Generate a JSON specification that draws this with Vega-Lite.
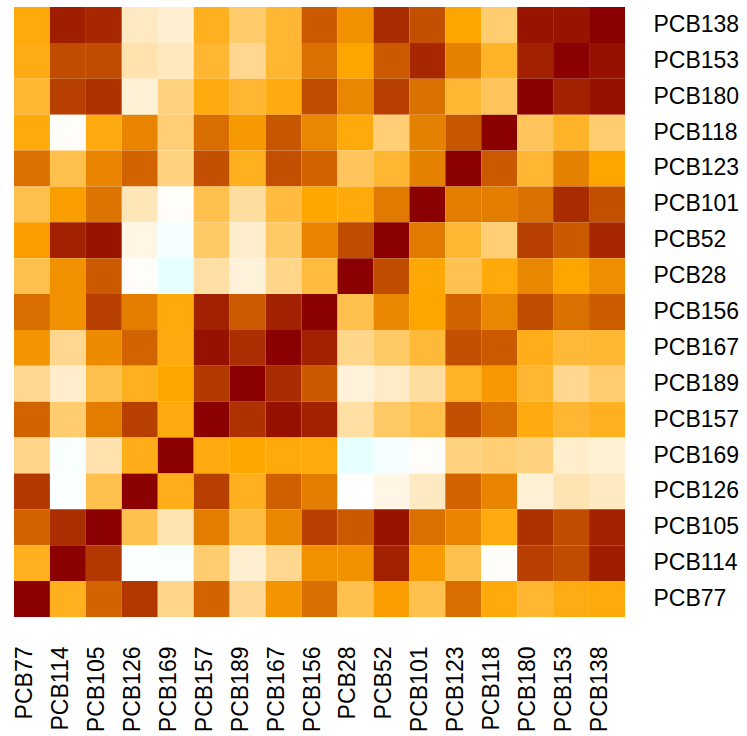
{
  "$schema": "https://vega.github.io/schema/vega-lite/v6.json",
  "width": 611,
  "height": 610,
  "autosize": {"type": "none"},
  "padding": {"left": 14, "top": 7, "right": 122, "bottom": 119},
  "background": "white",
  "config": {"view": {"stroke": null}, "font": "Liberation Sans"},
  "data": {"values": [
{"y":"PCB138","x":"PCB77","r":0.48},{"y":"PCB138","x":"PCB114","r":0.91},{"y":"PCB138","x":"PCB105","r":0.88},{"y":"PCB138","x":"PCB126","r":0.12},{"y":"PCB138","x":"PCB169","r":0.09},{"y":"PCB138","x":"PCB157","r":0.44},{"y":"PCB138","x":"PCB189","r":0.29},{"y":"PCB138","x":"PCB167","r":0.40},{"y":"PCB138","x":"PCB156","r":0.73},{"y":"PCB138","x":"PCB28","r":0.56},{"y":"PCB138","x":"PCB52","r":0.87},{"y":"PCB138","x":"PCB101","r":0.76},{"y":"PCB138","x":"PCB123","r":0.50},{"y":"PCB138","x":"PCB118","r":0.28},{"y":"PCB138","x":"PCB180","r":0.94},{"y":"PCB138","x":"PCB153","r":0.94},{"y":"PCB138","x":"PCB138","r":1},
{"y":"PCB153","x":"PCB77","r":0.46},{"y":"PCB153","x":"PCB114","r":0.77},{"y":"PCB153","x":"PCB105","r":0.77},{"y":"PCB153","x":"PCB126","r":0.16},{"y":"PCB153","x":"PCB169","r":0.13},{"y":"PCB153","x":"PCB157","r":0.40},{"y":"PCB153","x":"PCB189","r":0.22},{"y":"PCB153","x":"PCB167","r":0.40},{"y":"PCB153","x":"PCB156","r":0.66},{"y":"PCB153","x":"PCB28","r":0.50},{"y":"PCB153","x":"PCB52","r":0.73},{"y":"PCB153","x":"PCB101","r":0.88},{"y":"PCB153","x":"PCB123","r":0.61},{"y":"PCB153","x":"PCB118","r":0.42},{"y":"PCB153","x":"PCB180","r":0.90},{"y":"PCB153","x":"PCB153","r":1},{"y":"PCB153","x":"PCB138","r":0.95},
{"y":"PCB180","x":"PCB77","r":0.40},{"y":"PCB180","x":"PCB114","r":0.81},{"y":"PCB180","x":"PCB105","r":0.85},{"y":"PCB180","x":"PCB126","r":0.08},{"y":"PCB180","x":"PCB169","r":0.25},{"y":"PCB180","x":"PCB157","r":0.47},{"y":"PCB180","x":"PCB189","r":0.40},{"y":"PCB180","x":"PCB167","r":0.47},{"y":"PCB180","x":"PCB156","r":0.77},{"y":"PCB180","x":"PCB28","r":0.59},{"y":"PCB180","x":"PCB52","r":0.81},{"y":"PCB180","x":"PCB101","r":0.66},{"y":"PCB180","x":"PCB123","r":0.40},{"y":"PCB180","x":"PCB118","r":0.32},{"y":"PCB180","x":"PCB180","r":1},{"y":"PCB180","x":"PCB153","r":0.90},{"y":"PCB180","x":"PCB138","r":0.95},
{"y":"PCB118","x":"PCB77","r":0.48},{"y":"PCB118","x":"PCB114","r":0.01},{"y":"PCB118","x":"PCB105","r":0.47},{"y":"PCB118","x":"PCB126","r":0.60},{"y":"PCB118","x":"PCB169","r":0.27},{"y":"PCB118","x":"PCB157","r":0.67},{"y":"PCB118","x":"PCB189","r":0.54},{"y":"PCB118","x":"PCB167","r":0.74},{"y":"PCB118","x":"PCB156","r":0.59},{"y":"PCB118","x":"PCB28","r":0.48},{"y":"PCB118","x":"PCB52","r":0.27},{"y":"PCB118","x":"PCB101","r":0.61},{"y":"PCB118","x":"PCB123","r":0.74},{"y":"PCB118","x":"PCB118","r":1},{"y":"PCB118","x":"PCB180","r":0.32},{"y":"PCB118","x":"PCB153","r":0.42},{"y":"PCB118","x":"PCB138","r":0.28},
{"y":"PCB123","x":"PCB77","r":0.66},{"y":"PCB123","x":"PCB114","r":0.35},{"y":"PCB123","x":"PCB105","r":0.60},{"y":"PCB123","x":"PCB126","r":0.70},{"y":"PCB123","x":"PCB169","r":0.25},{"y":"PCB123","x":"PCB157","r":0.76},{"y":"PCB123","x":"PCB189","r":0.44},{"y":"PCB123","x":"PCB167","r":0.76},{"y":"PCB123","x":"PCB156","r":0.70},{"y":"PCB123","x":"PCB28","r":0.32},{"y":"PCB123","x":"PCB52","r":0.40},{"y":"PCB123","x":"PCB101","r":0.61},{"y":"PCB123","x":"PCB123","r":1},{"y":"PCB123","x":"PCB118","r":0.73},{"y":"PCB123","x":"PCB180","r":0.40},{"y":"PCB123","x":"PCB153","r":0.61},{"y":"PCB123","x":"PCB138","r":0.50},
{"y":"PCB101","x":"PCB77","r":0.35},{"y":"PCB101","x":"PCB114","r":0.52},{"y":"PCB101","x":"PCB105","r":0.65},{"y":"PCB101","x":"PCB126","r":0.14},{"y":"PCB101","x":"PCB169","r":0.01},{"y":"PCB101","x":"PCB157","r":0.35},{"y":"PCB101","x":"PCB189","r":0.19},{"y":"PCB101","x":"PCB167","r":0.38},{"y":"PCB101","x":"PCB156","r":0.50},{"y":"PCB101","x":"PCB28","r":0.48},{"y":"PCB101","x":"PCB52","r":0.63},{"y":"PCB101","x":"PCB101","r":1},{"y":"PCB101","x":"PCB123","r":0.62},{"y":"PCB101","x":"PCB118","r":0.62},{"y":"PCB101","x":"PCB180","r":0.66},{"y":"PCB101","x":"PCB153","r":0.87},{"y":"PCB101","x":"PCB138","r":0.76},
{"y":"PCB52","x":"PCB77","r":0.52},{"y":"PCB52","x":"PCB114","r":0.90},{"y":"PCB52","x":"PCB105","r":0.94},{"y":"PCB52","x":"PCB126","r":0.05},{"y":"PCB52","x":"PCB169","r":-0.03},{"y":"PCB52","x":"PCB157","r":0.30},{"y":"PCB52","x":"PCB189","r":0.10},{"y":"PCB52","x":"PCB167","r":0.30},{"y":"PCB52","x":"PCB156","r":0.60},{"y":"PCB52","x":"PCB28","r":0.77},{"y":"PCB52","x":"PCB52","r":1},{"y":"PCB52","x":"PCB101","r":0.63},{"y":"PCB52","x":"PCB123","r":0.40},{"y":"PCB52","x":"PCB118","r":0.27},{"y":"PCB52","x":"PCB180","r":0.81},{"y":"PCB52","x":"PCB153","r":0.73},{"y":"PCB52","x":"PCB138","r":0.88},
{"y":"PCB28","x":"PCB77","r":0.35},{"y":"PCB28","x":"PCB114","r":0.56},{"y":"PCB28","x":"PCB105","r":0.73},{"y":"PCB28","x":"PCB126","r":0.01},{"y":"PCB28","x":"PCB169","r":-0.08},{"y":"PCB28","x":"PCB157","r":0.18},{"y":"PCB28","x":"PCB189","r":0.07},{"y":"PCB28","x":"PCB167","r":0.23},{"y":"PCB28","x":"PCB156","r":0.38},{"y":"PCB28","x":"PCB28","r":1},{"y":"PCB28","x":"PCB52","r":0.77},{"y":"PCB28","x":"PCB101","r":0.49},{"y":"PCB28","x":"PCB123","r":0.34},{"y":"PCB28","x":"PCB118","r":0.48},{"y":"PCB28","x":"PCB180","r":0.59},{"y":"PCB28","x":"PCB153","r":0.50},{"y":"PCB28","x":"PCB138","r":0.57},
{"y":"PCB156","x":"PCB77","r":0.67},{"y":"PCB156","x":"PCB114","r":0.56},{"y":"PCB156","x":"PCB105","r":0.81},{"y":"PCB156","x":"PCB126","r":0.62},{"y":"PCB156","x":"PCB169","r":0.48},{"y":"PCB156","x":"PCB157","r":0.90},{"y":"PCB156","x":"PCB189","r":0.73},{"y":"PCB156","x":"PCB167","r":0.90},{"y":"PCB156","x":"PCB156","r":1},{"y":"PCB156","x":"PCB28","r":0.35},{"y":"PCB156","x":"PCB52","r":0.59},{"y":"PCB156","x":"PCB101","r":0.50},{"y":"PCB156","x":"PCB123","r":0.70},{"y":"PCB156","x":"PCB118","r":0.59},{"y":"PCB156","x":"PCB180","r":0.77},{"y":"PCB156","x":"PCB153","r":0.66},{"y":"PCB156","x":"PCB138","r":0.72},
{"y":"PCB167","x":"PCB77","r":0.55},{"y":"PCB167","x":"PCB114","r":0.22},{"y":"PCB167","x":"PCB105","r":0.58},{"y":"PCB167","x":"PCB126","r":0.70},{"y":"PCB167","x":"PCB169","r":0.47},{"y":"PCB167","x":"PCB157","r":0.95},{"y":"PCB167","x":"PCB189","r":0.86},{"y":"PCB167","x":"PCB167","r":1},{"y":"PCB167","x":"PCB156","r":0.90},{"y":"PCB167","x":"PCB28","r":0.23},{"y":"PCB167","x":"PCB52","r":0.30},{"y":"PCB167","x":"PCB101","r":0.39},{"y":"PCB167","x":"PCB123","r":0.76},{"y":"PCB167","x":"PCB118","r":0.73},{"y":"PCB167","x":"PCB180","r":0.45},{"y":"PCB167","x":"PCB153","r":0.39},{"y":"PCB167","x":"PCB138","r":0.40},
{"y":"PCB189","x":"PCB77","r":0.22},{"y":"PCB189","x":"PCB114","r":0.10},{"y":"PCB189","x":"PCB105","r":0.35},{"y":"PCB189","x":"PCB126","r":0.44},{"y":"PCB189","x":"PCB169","r":0.50},{"y":"PCB189","x":"PCB157","r":0.83},{"y":"PCB189","x":"PCB189","r":1},{"y":"PCB189","x":"PCB167","r":0.87},{"y":"PCB189","x":"PCB156","r":0.73},{"y":"PCB189","x":"PCB28","r":0.07},{"y":"PCB189","x":"PCB52","r":0.11},{"y":"PCB189","x":"PCB101","r":0.19},{"y":"PCB189","x":"PCB123","r":0.42},{"y":"PCB189","x":"PCB118","r":0.54},{"y":"PCB189","x":"PCB180","r":0.40},{"y":"PCB189","x":"PCB153","r":0.22},{"y":"PCB189","x":"PCB138","r":0.28},
{"y":"PCB157","x":"PCB77","r":0.70},{"y":"PCB157","x":"PCB114","r":0.28},{"y":"PCB157","x":"PCB105","r":0.62},{"y":"PCB157","x":"PCB126","r":0.81},{"y":"PCB157","x":"PCB169","r":0.47},{"y":"PCB157","x":"PCB157","r":1},{"y":"PCB157","x":"PCB189","r":0.85},{"y":"PCB157","x":"PCB167","r":0.95},{"y":"PCB157","x":"PCB156","r":0.90},{"y":"PCB157","x":"PCB28","r":0.18},{"y":"PCB157","x":"PCB52","r":0.30},{"y":"PCB157","x":"PCB101","r":0.35},{"y":"PCB157","x":"PCB123","r":0.76},{"y":"PCB157","x":"PCB118","r":0.67},{"y":"PCB157","x":"PCB180","r":0.47},{"y":"PCB157","x":"PCB153","r":0.40},{"y":"PCB157","x":"PCB138","r":0.44},
{"y":"PCB169","x":"PCB77","r":0.23},{"y":"PCB169","x":"PCB114","r":-0.02},{"y":"PCB169","x":"PCB105","r":0.16},{"y":"PCB169","x":"PCB126","r":0.45},{"y":"PCB169","x":"PCB169","r":1},{"y":"PCB169","x":"PCB157","r":0.47},{"y":"PCB169","x":"PCB189","r":0.50},{"y":"PCB169","x":"PCB167","r":0.48},{"y":"PCB169","x":"PCB156","r":0.48},{"y":"PCB169","x":"PCB28","r":-0.08},{"y":"PCB169","x":"PCB52","r":-0.03},{"y":"PCB169","x":"PCB101","r":0.01},{"y":"PCB169","x":"PCB123","r":0.25},{"y":"PCB169","x":"PCB118","r":0.27},{"y":"PCB169","x":"PCB180","r":0.25},{"y":"PCB169","x":"PCB153","r":0.10},{"y":"PCB169","x":"PCB138","r":0.08},
{"y":"PCB126","x":"PCB77","r":0.83},{"y":"PCB126","x":"PCB114","r":-0.01},{"y":"PCB126","x":"PCB105","r":0.35},{"y":"PCB126","x":"PCB126","r":1},{"y":"PCB126","x":"PCB169","r":0.45},{"y":"PCB126","x":"PCB157","r":0.81},{"y":"PCB126","x":"PCB189","r":0.44},{"y":"PCB126","x":"PCB167","r":0.71},{"y":"PCB126","x":"PCB156","r":0.62},{"y":"PCB126","x":"PCB28","r":0.00},{"y":"PCB126","x":"PCB52","r":0.05},{"y":"PCB126","x":"PCB101","r":0.12},{"y":"PCB126","x":"PCB123","r":0.70},{"y":"PCB126","x":"PCB118","r":0.60},{"y":"PCB126","x":"PCB180","r":0.08},{"y":"PCB126","x":"PCB153","r":0.15},{"y":"PCB126","x":"PCB138","r":0.12},
{"y":"PCB105","x":"PCB77","r":0.70},{"y":"PCB105","x":"PCB114","r":0.86},{"y":"PCB105","x":"PCB105","r":1},{"y":"PCB105","x":"PCB126","r":0.35},{"y":"PCB105","x":"PCB169","r":0.15},{"y":"PCB105","x":"PCB157","r":0.62},{"y":"PCB105","x":"PCB189","r":0.37},{"y":"PCB105","x":"PCB167","r":0.59},{"y":"PCB105","x":"PCB156","r":0.81},{"y":"PCB105","x":"PCB28","r":0.73},{"y":"PCB105","x":"PCB52","r":0.94},{"y":"PCB105","x":"PCB101","r":0.66},{"y":"PCB105","x":"PCB123","r":0.60},{"y":"PCB105","x":"PCB118","r":0.47},{"y":"PCB105","x":"PCB180","r":0.85},{"y":"PCB105","x":"PCB153","r":0.77},{"y":"PCB105","x":"PCB138","r":0.90},
{"y":"PCB114","x":"PCB77","r":0.44},{"y":"PCB114","x":"PCB114","r":1},{"y":"PCB114","x":"PCB105","r":0.83},{"y":"PCB114","x":"PCB126","r":-0.01},{"y":"PCB114","x":"PCB169","r":-0.02},{"y":"PCB114","x":"PCB157","r":0.28},{"y":"PCB114","x":"PCB189","r":0.09},{"y":"PCB114","x":"PCB167","r":0.22},{"y":"PCB114","x":"PCB156","r":0.56},{"y":"PCB114","x":"PCB28","r":0.56},{"y":"PCB114","x":"PCB52","r":0.90},{"y":"PCB114","x":"PCB101","r":0.53},{"y":"PCB114","x":"PCB123","r":0.35},{"y":"PCB114","x":"PCB118","r":0.01},{"y":"PCB114","x":"PCB180","r":0.81},{"y":"PCB114","x":"PCB153","r":0.77},{"y":"PCB114","x":"PCB138","r":0.91},
{"y":"PCB77","x":"PCB77","r":1},{"y":"PCB77","x":"PCB114","r":0.44},{"y":"PCB77","x":"PCB105","r":0.70},{"y":"PCB77","x":"PCB126","r":0.83},{"y":"PCB77","x":"PCB169","r":0.23},{"y":"PCB77","x":"PCB157","r":0.70},{"y":"PCB77","x":"PCB189","r":0.21},{"y":"PCB77","x":"PCB167","r":0.55},{"y":"PCB77","x":"PCB156","r":0.67},{"y":"PCB77","x":"PCB28","r":0.35},{"y":"PCB77","x":"PCB52","r":0.52},{"y":"PCB77","x":"PCB101","r":0.35},{"y":"PCB77","x":"PCB123","r":0.67},{"y":"PCB77","x":"PCB118","r":0.48},{"y":"PCB77","x":"PCB180","r":0.40},{"y":"PCB77","x":"PCB153","r":0.46},{"y":"PCB77","x":"PCB138","r":0.48}
  ]},
  "mark": {"type": "rect"},
  "encoding": {
    "x": {
      "field": "x", "type": "nominal",
      "scale": {"domain": ["PCB77","PCB114","PCB105","PCB126","PCB169","PCB157","PCB189","PCB167","PCB156","PCB28","PCB52","PCB101","PCB123","PCB118","PCB180","PCB153","PCB138"], "paddingInner": 0, "paddingOuter": 0},
      "axis": {"title": null, "orient": "bottom", "ticks": false, "domain": false, "labelAngle": -90, "labelAlign": "right", "labelBaseline": "alphabetic", "labelPadding": 29, "labelFontSize": 23, "labelColor": "#000000", "labelFont": "Liberation Sans", "labelOverlap": false}
    },
    "y": {
      "field": "y", "type": "nominal",
      "scale": {"domain": ["PCB138","PCB153","PCB180","PCB118","PCB123","PCB101","PCB52","PCB28","PCB156","PCB167","PCB189","PCB157","PCB169","PCB126","PCB105","PCB114","PCB77"], "paddingInner": 0, "paddingOuter": 0},
      "axis": {"title": null, "orient": "right", "ticks": false, "domain": false, "labelAlign": "left", "labelBaseline": "middle", "labelPadding": 28, "labelFontSize": 23, "labelColor": "#000000", "labelFont": "Liberation Sans", "labelOverlap": false}
    },
    "color": {
      "field": "r", "type": "quantitative",
      "scale": {"domain": [-0.1, 0, 0.5, 1], "range": ["#E0FFFF", "#FFFFFF", "#FFA500", "#8B0000"], "interpolate": "rgb"},
      "legend": null
    }
  }
}
